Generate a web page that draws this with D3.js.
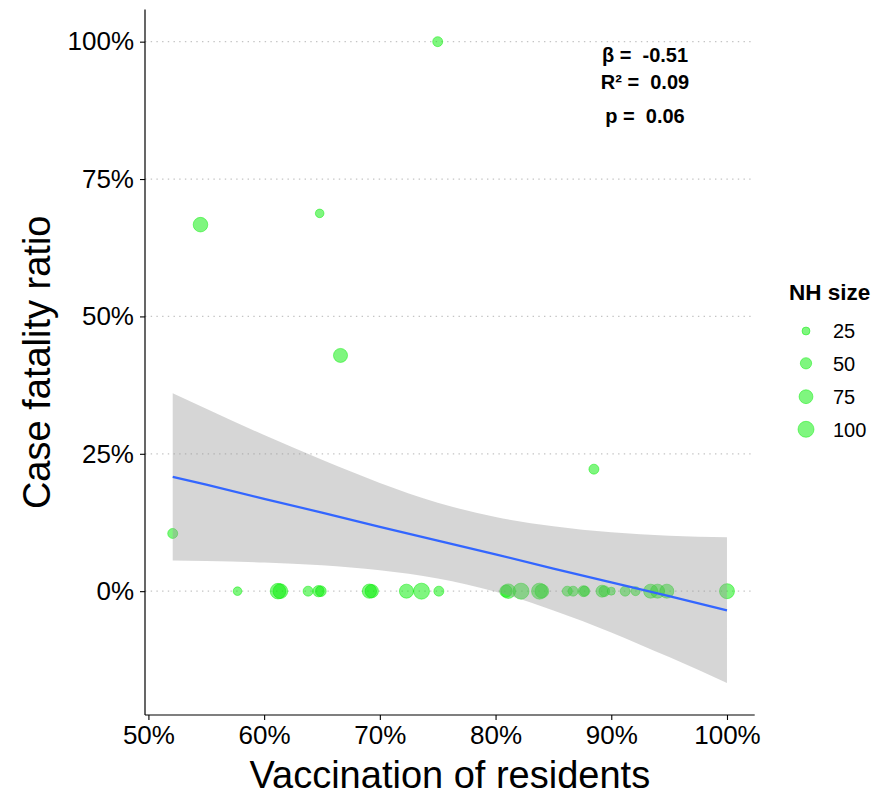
<!DOCTYPE html>
<html>
<head>
<meta charset="utf-8">
<script src="https://cdn.jsdelivr.net/npm/d3@7"></script>
<style>
  html, body { margin: 0; padding: 0; background: #ffffff; }
  svg { display: block; font-family: "Liberation Sans", Arial, sans-serif; }
  .stat { white-space: pre; }
</style>
</head>
<body>
<svg id="chart" width="879" height="796"></svg>
<script>
// ---- Data ----
// Vaccination of residents (%), case fatality ratio (%), nursing-home size
const vaccination = [75.0, 54.5, 64.8, 66.6, 88.5, 52.1,
  57.7, 61.2, 61.4, 63.8, 64.7, 64.9, 69.1, 69.3, 72.3, 73.6, 75.1,
  80.9, 81.1, 82.2, 83.8, 84.0, 86.2, 86.7, 87.6, 87.7, 89.2, 89.4,
  90.0, 91.2, 92.1, 93.4, 94.0, 94.8, 100.0];
const fatality = [100, 66.7, 68.75, 42.9, 22.2, 10.5,
  0, 0, 0, 0, 0, 0, 0, 0, 0, 0, 0,
  0, 0, 0, 0, 0, 0, 0, 0, 0, 0, 0,
  0, 0, 0, 0, 0, 0, 0];
const nhSize = [39, 83, 29, 77, 39, 39,
  29, 95, 85, 39, 50, 45, 80, 70, 77, 100, 39,
  60, 83, 100, 100, 75, 39, 39, 47, 40, 56, 45,
  25, 39, 32, 77, 77, 77, 88];

// Linear fit and its confidence band
const bandX     = [52.1, 55, 60, 65, 70, 75, 80, 85, 90, 95, 100];
const fitY      = [20.8, 19.4, 16.8, 14.3, 11.7, 9.2, 6.7, 4.1, 1.6, -0.9, -3.5];
const bandLower = [5.6, 5.5, 5.2, 4.7, 3.8, 2.3, -0.1, -3.5, -7.5, -12.0, -16.7];
const bandUpper = [36.0, 33.2, 28.4, 23.9, 19.7, 16.1, 13.5, 11.8, 10.7, 10.1, 9.8];

// Axis ticks and legend
const xTicks = [50, 60, 70, 80, 90, 100];
const yTicks = [0, 25, 50, 75, 100];
const legendSizes = [25, 50, 75, 100];
const statLines = ["β =  -0.51", "R² =  0.09", "p =  0.06"];

// ---- Layout ----
const svg = d3.select("#chart");
const panel = { left: 145, right: 754.7, top: 9.6, bottom: 715 };

function expand(ext) {
  const pad = (ext[1] - ext[0]) * 0.05;
  return [ext[0] - pad, ext[1] + pad];
}
const xDom = expand(d3.extent(vaccination.concat(bandX)));
const yDom = expand(d3.extent(fatality.concat(bandLower, bandUpper)));

const x = d3.scaleLinear().domain(xDom).range([panel.left, panel.right]);
const y = d3.scaleLinear().domain(yDom).range([panel.bottom, panel.top]);
const r = d3.scaleSqrt().domain([0, 100]).range([0, 8]);

const pointColor = "rgb(0,238,0)";

// Gridlines (horizontal, dotted)
svg.append("g").selectAll("line").data(yTicks).join("line")
  .attr("x1", panel.left).attr("x2", panel.right)
  .attr("y1", d => y(d)).attr("y2", d => y(d))
  .attr("stroke", "#c4c4c4").attr("stroke-width", 1.2)
  .attr("stroke-dasharray", "1.4,4.3");

// Points
const pts = vaccination.map((v, i) => ({ v, f: fatality[i], s: nhSize[i] }));
svg.append("g").selectAll("circle").data(pts).join("circle")
  .attr("cx", d => x(d.v)).attr("cy", d => y(d.f)).attr("r", d => r(d.s))
  .attr("fill", pointColor).attr("fill-opacity", 0.5)
  .attr("stroke", pointColor).attr("stroke-opacity", 0.5).attr("stroke-width", 0.9);

// Confidence band
const band = bandX.map((v, i) => ({ v, lo: bandLower[i], hi: bandUpper[i], f: fitY[i] }));
svg.append("path").datum(band)
  .attr("d", d3.area().x(d => x(d.v)).y0(d => y(d.lo)).y1(d => y(d.hi)).curve(d3.curveMonotoneX))
  .attr("fill", "#999999").attr("fill-opacity", 0.4);

// Fit line
svg.append("path").datum(band)
  .attr("d", d3.line().x(d => x(d.v)).y(d => y(d.f)))
  .attr("fill", "none").attr("stroke", "#3366FF").attr("stroke-width", 2.2);

// Axes
const xAxis = d3.axisBottom(x).tickValues(xTicks).tickFormat(d => d + "%").tickSize(5).tickSizeOuter(0).tickPadding(6);
const yAxis = d3.axisLeft(y).tickValues(yTicks).tickFormat(d => d + "%").tickSize(5).tickSizeOuter(0).tickPadding(6);

const gx = svg.append("g").attr("transform", `translate(0,${panel.bottom})`).call(xAxis);
const gy = svg.append("g").attr("transform", `translate(${panel.left},0)`).call(yAxis);
[gx, gy].forEach(g => {
  g.select(".domain").attr("stroke", "#000").attr("stroke-width", 1.2);
  g.selectAll(".tick line").attr("stroke", "#000").attr("stroke-width", 1.1);
  g.selectAll(".tick text").attr("fill", "#000").attr("font-size", 26)
    .attr("font-family", "'Liberation Sans', Arial, sans-serif");
});
gy.select(".domain").attr("d", `M0,${panel.top}V${panel.bottom}`);
gx.select(".domain").attr("d", `M${panel.left},0H${panel.right}`);

// Axis titles
svg.append("text")
  .attr("x", (panel.left + panel.right) / 2).attr("y", 788)
  .attr("text-anchor", "middle").attr("font-size", 38).attr("fill", "#000")
  .text("Vaccination of residents");
svg.append("text")
  .attr("transform", `translate(50,${(panel.top + panel.bottom) / 2}) rotate(-90)`)
  .attr("text-anchor", "middle").attr("font-size", 38).attr("fill", "#000")
  .text("Case fatality ratio");

// Statistics annotation
const statY = [61.7, 89.3, 122.7];
svg.append("g").selectAll("text").data(statLines).join("text")
  .attr("class", "stat").attr("xml:space", "preserve")
  .attr("x", 645).attr("y", (d, i) => statY[i])
  .attr("text-anchor", "middle").attr("font-size", 20).attr("font-weight", "bold")
  .attr("fill", "#000").text(d => d);

// Legend
const lg = svg.append("g");
lg.append("text").attr("x", 789).attr("y", 300)
  .attr("font-size", 22.5).attr("font-weight", "bold").attr("fill", "#000").text("NH size");
const legY = [331, 363.3, 396.7, 429.3];
const items = lg.selectAll("g.item").data(legendSizes).join("g").attr("class", "item")
  .attr("transform", (d, i) => `translate(806,${legY[i]})`);
items.append("circle").attr("r", d => r(d))
  .attr("fill", pointColor).attr("fill-opacity", 0.5)
  .attr("stroke", pointColor).attr("stroke-opacity", 0.5).attr("stroke-width", 0.9);
items.append("text").attr("x", 27).attr("dy", "0.36em")
  .attr("font-size", 20).attr("fill", "#000").text(d => d);
</script>
</body>
</html>
